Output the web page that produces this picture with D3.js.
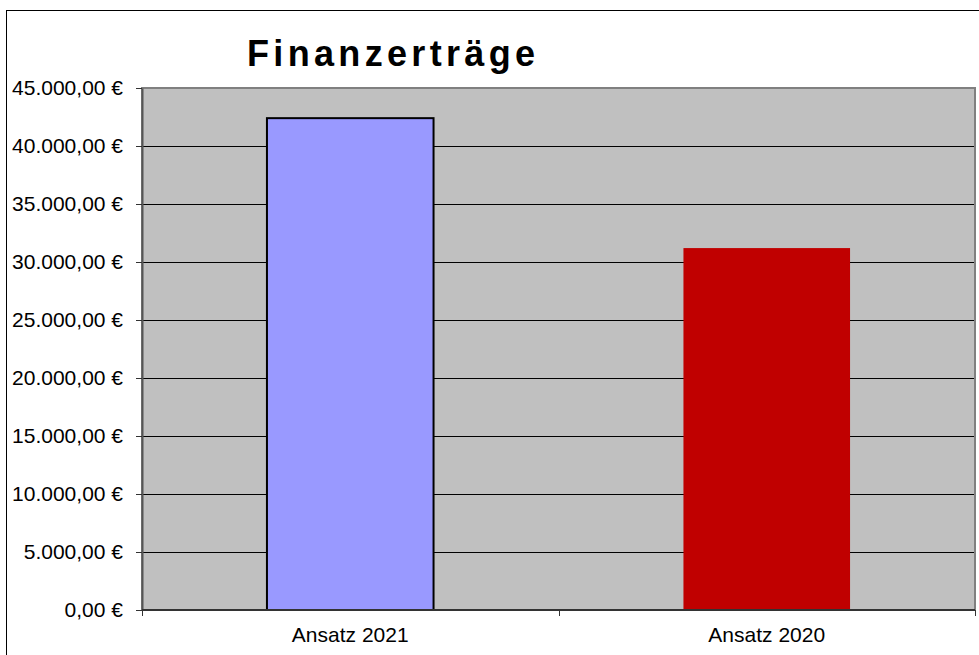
<!DOCTYPE html>
<html>
<head>
<meta charset="utf-8">
<script src="https://cdn.jsdelivr.net/npm/d3@7"></script>
<style>
  body { margin: 0; background: #fff; }
  svg { display: block; font-family: "Liberation Sans", Arial, sans-serif; }
</style>
</head>
<body>
<svg id="chart" width="979" height="655"></svg>
<script>
// Data
const categories = ['Ansatz 2021', 'Ansatz 2020'];
const values = [42400, 31200];
const barColors = ['#9999ff', '#c00000'];
const barStrokes = ['#000', 'none'];
const yTicks = [0, 5000, 10000, 15000, 20000, 25000, 30000, 35000, 40000, 45000];

const width = 979, height = 655;
const margin = { top: 88, right: 4, bottom: 45, left: 142 };
const innerWidth = width - margin.left - margin.right;
const innerHeight = height - margin.top - margin.bottom;

const svg = d3.select('#chart');

// Outer frame
svg.append('rect')
    .attr('x', 6.5).attr('y', 10.5)
    .attr('width', 990).attr('height', 700)
    .attr('fill', '#fff')
    .attr('stroke', '#000')
    .attr('stroke-width', 1);

// Title
svg.append('text')
    .attr('x', 247)
    .attr('y', 66)
    .attr('textLength', 288)
    .attr('lengthAdjust', 'spacing')
    .style('font-size', '36px')
    .style('font-weight', 'bold')
    .text('Finanzerträge');

const g = svg.append('g')
    .attr('transform', `translate(${margin.left},${margin.top})`);

// Scales
const x = d3.scaleBand()
    .domain(categories)
    .range([0, innerWidth])
    .paddingInner(0.6)
    .paddingOuter(0.3);

const xEdge = d3.scaleLinear()
    .domain([0, categories.length])
    .range([0, innerWidth]);

const y = d3.scaleLinear()
    .domain([0, 45000])
    .range([innerHeight, 0]);

const fmt = v => v.toLocaleString('de-DE', { minimumFractionDigits: 2, maximumFractionDigits: 2 }) + ' €';

// Plot background
g.append('rect')
    .attr('width', innerWidth)
    .attr('height', innerHeight)
    .attr('fill', '#c0c0c0');

// Grid
g.append('g')
    .selectAll('line')
    .data(yTicks.filter(d => d > 0))
    .join('line')
    .attr('x1', 0).attr('x2', innerWidth)
    .attr('y1', d => Math.round(y(d)) + 0.5)
    .attr('y2', d => Math.round(y(d)) + 0.5)
    .attr('stroke', '#000')
    .attr('stroke-width', 1);

// Bars
g.selectAll('.bar')
    .data(categories)
    .join('rect')
    .attr('class', 'bar')
    .attr('x', d => x(d))
    .attr('y', (d, i) => y(values[i]))
    .attr('width', x.bandwidth())
    .attr('height', (d, i) => innerHeight - y(values[i]))
    .attr('fill', (d, i) => barColors[i])
    .attr('stroke', (d, i) => barStrokes[i])
    .attr('stroke-width', 2);

// Plot border (gray)
g.append('rect')
    .attr('x', 0).attr('y', 0)
    .attr('width', innerWidth)
    .attr('height', innerHeight)
    .attr('fill', 'none')
    .attr('stroke', '#808080')
    .attr('stroke-width', 2);

// Y axis
const yAxis = g.append('g')
    .call(d3.axisLeft(y).tickValues(yTicks).tickFormat(fmt).tickSize(6).tickSizeOuter(0));
yAxis.select('.domain').attr('stroke', '#555').attr('stroke-width', 2);
yAxis.selectAll('.tick line').attr('stroke', '#333');
yAxis.selectAll('text')
    .attr('x', -19)
    .style('font-size', '21px')
    .style('font-family', '"Liberation Sans", Arial, sans-serif')
    .attr('fill', '#000');

// X axis
const xAxis = g.append('g')
    .attr('transform', `translate(0,${innerHeight})`);
xAxis.append('line')
    .attr('x1', 0).attr('x2', innerWidth)
    .attr('y1', 0).attr('y2', 0)
    .attr('stroke', '#333').attr('stroke-width', 2);
xAxis.selectAll('.edge')
    .data(d3.range(categories.length + 1))
    .join('line')
    .attr('class', 'edge')
    .attr('x1', d => Math.round(xEdge(d)) + 0.5)
    .attr('x2', d => Math.round(xEdge(d)) + 0.5)
    .attr('y1', 0).attr('y2', 6)
    .attr('stroke', '#333');
xAxis.selectAll('.cat')
    .data(categories)
    .join('text')
    .attr('class', 'cat')
    .attr('x', d => x(d) + x.bandwidth() / 2)
    .attr('y', 32)
    .attr('text-anchor', 'middle')
    .style('font-size', '21px')
    .text(d => d);
</script>
</body>
</html>
